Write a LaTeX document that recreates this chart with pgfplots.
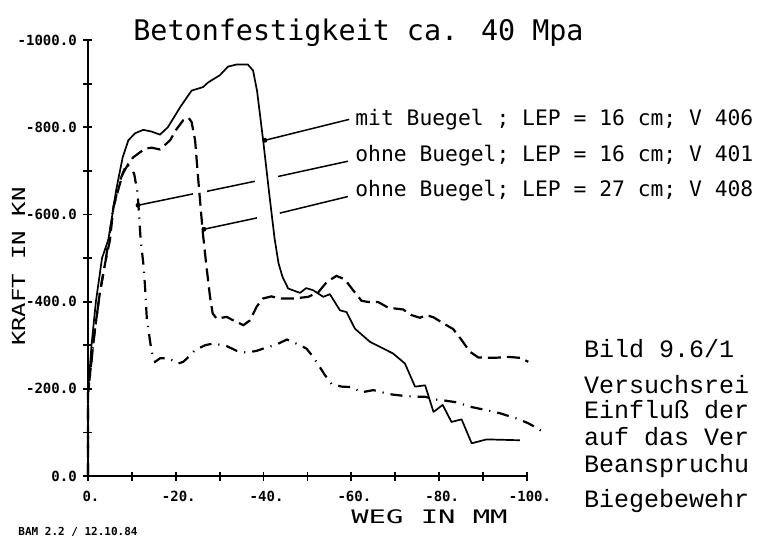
\documentclass[border=0pt]{standalone}
\usepackage{graphicx}
\usepackage{fontspec}
\usepackage{pgfplots}
\pgfplotsset{compat=1.18}
\setmainfont{DejaVu Sans Mono}
\newfontfamily\plotfont{DejaVu Sans Mono}
\newfontfamily\courfont{Liberation Mono}

\begin{document}
\begin{tikzpicture}[x=0.5pt,y=-0.5pt]
\path[use as bounding box] (0,0) rectangle (757,538);

\begin{axis}[
  at={(44pt,-238pt)}, anchor=origin,
  scale only axis, width=219.5pt, height=218pt,
  xmin=-100, xmax=0, ymin=-1000, ymax=0,
  x dir=reverse, y dir=reverse,
  axis x line*=bottom, axis y line*=left,
  axis line style={line width=0.9pt,-},
  clip=false,
  tick align=center, major tick length=4.5pt,
  every tick/.style={black, line width=0.9pt},
  xtick={0,-10,...,-100},
  xticklabels={0.,,-20.,,-40.,,-60.,,-80.,,-100.},
  ytick={0,-100,...,-1000},
  yticklabels={0.0,,-200.0,,-400.0,,-600.0,,-800.0,,-1000.0},
  xticklabel style={font=\plotfont\bfseries\fontsize{7}{8}\selectfont, anchor=north, inner sep=0pt, yshift=-5pt, xshift=1.5pt},
  yticklabel style={font=\plotfont\bfseries\fontsize{7}{8}\selectfont, anchor=east, inner sep=0pt, xshift=-3.2pt},
]
% mit Buegel, LEP = 16 cm, V 406
\addplot[black, line width=0.85pt, line join=round] coordinates {
(0,0) (0,-190) (-0.8,-300) (-1.8,-400) (-3.2,-500) (-4.6,-541) (-5.0,-564)
(-6.4,-655) (-7.9,-731) (-9.2,-770) (-10.7,-786) (-12.6,-794) (-14.5,-790)
(-16.4,-783) (-18.2,-800) (-21.0,-846) (-23.6,-884) (-26.2,-892) (-27.4,-903)
(-30.0,-919) (-31.9,-939) (-33.9,-944) (-36.4,-944) (-37.6,-930) (-38.5,-884)
(-39.9,-770) (-41.2,-655) (-42.5,-545) (-43.4,-488) (-44.3,-457) (-45.6,-430)
(-48.3,-420) (-49.7,-431) (-51.3,-426) (-53.6,-411) (-55.1,-417) (-57.4,-380)
(-58.9,-376) (-60.8,-338) (-64.2,-308) (-69.5,-281) (-72.2,-258) (-74.5,-205)
(-76.8,-208) (-78.7,-147) (-80.8,-163) (-82.8,-124) (-85.1,-130) (-87.4,-75)
(-90.8,-84) (-98.4,-82)
};
% ohne Buegel, LEP = 16 cm (dashed)
\addplot[black, line width=1.1pt, dash pattern=on 6.5pt off 3pt] coordinates {
(0,0) (0,-190) (-1.5,-330) (-2.7,-420) (-3.9,-488) (-5.0,-541) (-5.8,-617)
(-7.9,-693) (-9.2,-716) (-10.3,-731) (-13.0,-751) (-14.5,-753) (-16.4,-749)
(-18.7,-770) (-20.2,-796) (-21.7,-816) (-22.9,-822) (-23.6,-812) (-24.4,-770)
(-25.0,-694) (-26.1,-564) (-26.9,-488) (-27.8,-411) (-28.4,-373) (-29.3,-361)
(-31.6,-365) (-33.1,-357) (-35.4,-346) (-36.9,-357) (-38.4,-388) (-39.8,-407)
(-41.8,-412) (-43.7,-407) (-46.8,-407) (-50.2,-411) (-52.5,-422) (-54.4,-445)
(-56.6,-459) (-58.5,-451) (-60.4,-426) (-62.3,-402) (-63.9,-399) (-66.1,-399)
(-68.4,-386) (-71.8,-382) (-73.7,-369) (-75.6,-363) (-77.1,-369) (-78.7,-364)
(-81.3,-348) (-83.2,-337) (-85.1,-312) (-87.0,-285) (-88.9,-272) (-92.3,-271)
(-96.1,-273) (-98.4,-271) (-100.3,-262)
};
% ohne Buegel, LEP = 27 cm (dash-dot)
\addplot[black, line width=1.1pt, dash pattern=on 6pt off 3.5pt on 0.6pt off 3.5pt] coordinates {
(0,0) (0,-190) (-1.5,-330) (-2.7,-420) (-3.9,-488) (-5.0,-560) (-5.8,-617)
(-7.3,-678) (-8.8,-716) (-10.5,-694) (-11.2,-655) (-11.5,-621) (-12.0,-541)
(-12.6,-488) (-13.0,-434) (-13.4,-361) (-14.1,-312) (-14.5,-285) (-15.3,-262)
(-16.4,-270) (-18.3,-270) (-20.6,-258) (-21.7,-262) (-22.9,-273) (-24.4,-289)
(-26.7,-300) (-28.5,-304) (-31.6,-298) (-33.9,-287) (-36.1,-283) (-38.4,-287)
(-40.7,-295) (-42.6,-300) (-45.3,-313) (-48.3,-300) (-49.8,-292) (-51.3,-273)
(-52.8,-250) (-54.0,-231) (-55.5,-211) (-57.8,-205) (-60.1,-204) (-62.3,-192)
(-65.0,-197) (-66.9,-192) (-69.2,-187) (-71.8,-184) (-74.1,-182) (-76.8,-182)
(-78.7,-176) (-81.3,-173) (-84.0,-169) (-87.0,-159) (-90.8,-151) (-93.8,-144)
(-97.6,-132) (-100.3,-121) (-102.6,-108) (-103.6,-101)
};
% annotation leader lines
\addplot[black, line width=0.75pt] coordinates {(-40.3,-770) (-59.5,-818)};
\addplot[black, line width=0.75pt] coordinates {(-11.4,-621) (-23.9,-647)};
\addplot[black, line width=0.75pt] coordinates {(-27.1,-653) (-38.0,-676)};
\addplot[black, line width=0.75pt] coordinates {(-43.3,-687) (-59.2,-722)};
\addplot[black, line width=0.75pt] coordinates {(-26.4,-566) (-38.5,-592)};
\addplot[black, line width=0.75pt] coordinates {(-43.7,-603) (-59.2,-641)};
\addplot[only marks, mark=*, mark size=1pt, black] coordinates {(-40.3,-770) (-11.4,-621) (-26.4,-566)};
\end{axis}

% titles and labels
\node[anchor=base west, inner sep=0pt] at (133,40) {\plotfont\fontsize{14.2}{16}\selectfont Betonfestigkeit ca. 40 Mpa};
\node[anchor=base west, inner sep=0pt] at (355,125) {\plotfont\fontsize{10.66}{12}\selectfont mit Buegel ; LEP = 16 cm; V 406};
\node[anchor=base west, inner sep=0pt] at (355,161) {\plotfont\fontsize{10.66}{12}\selectfont ohne Buegel; LEP = 16 cm; V 401};
\node[anchor=base west, inner sep=0pt] at (355,196) {\plotfont\fontsize{10.66}{12}\selectfont ohne Buegel; LEP = 27 cm; V 408};
\node[rotate=90, inner sep=0pt] at (18.5,266.7) {\plotfont\fontsize{9}{11}\selectfont\scalebox{1.33}[1]{KRAFT IN KN}};
\node[inner sep=0pt] at (429.5,516.5) {\plotfont\fontsize{9.3}{11}\selectfont\scalebox{1.55}[1]{WEG IN MM}};
\node[anchor=west, inner sep=0pt] at (18,532) {\plotfont\bfseries\fontsize{5.5}{6}\selectfont BAM 2.2 / 12.10.84};

\begin{scope}[every node/.style={anchor=base west, inner sep=0pt, font=\courfont\fontsize{12.5}{14}\selectfont}]
\node at (583.7,357.7) {Bild 9.6/1};
\node at (583.7,393.7) {Versuchsrei};
\node at (583.7,418.7) {Einflu\ss{} der};
\node at (583.7,445.3) {auf das Ver};
\node at (583.7,472) {Beanspruchu};
\node at (583.7,507) {Biegebewehr};
\end{scope}
\end{tikzpicture}
\end{document}
